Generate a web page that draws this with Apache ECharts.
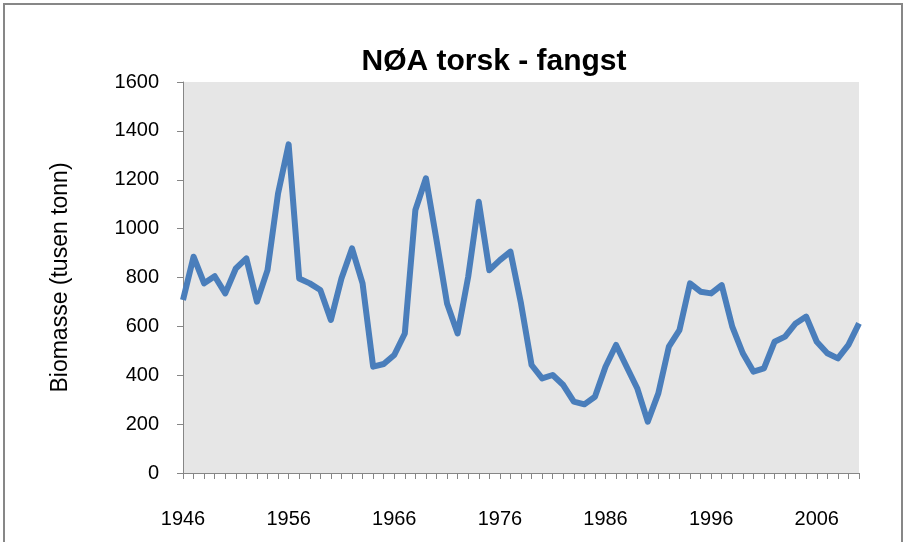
<!DOCTYPE html>
<html>
<head>
<meta charset="utf-8">
<script src="https://cdn.jsdelivr.net/npm/echarts@6/dist/echarts.min.js"></script>
<style>
html,body{margin:0;padding:0;background:#fff;}
#frame{position:absolute;left:3px;top:3px;width:900px;height:545px;border:2px solid #878787;box-sizing:border-box;}
#main{position:absolute;left:0;top:0;width:906px;height:542px;}
</style>
</head>
<body>
<div id="frame"></div>
<div id="main"></div>
<script>
// årstall og fangst (tusen tonn)
var years=[];
for(var y=1946;y<=2010;y++){years.push(String(y));}
var fangst=[708,885,776,805,735,837,878,701,830,1144,
1345,796,776,749,626,796,919,776,435,446,
483,571,1076,1206,953,694,571,803,1110,830,
871,906,694,442,387,401,360,292,281,312,
435,524,435,347,210,326,517,585,776,742,
735,769,599,490,415,428,537,558,612,640,
537,490,469,524,612];
var yTicks=[0,200,400,600,800,1000,1200,1400,1600];

var myChart=echarts.init(document.getElementById('main'));
var font='"Liberation Sans", Arial, sans-serif';
var option={
	backgroundColor:'transparent',
	title:{
		text:'NØA torsk - fangst',
		left:489,
		textAlign:'center',
		top:42,
		textStyle:{fontFamily:font,fontSize:30,fontWeight:'bold',color:'#000'}
	},
	grid:{left:183,right:47,top:82,bottom:69,show:true,backgroundColor:'#e6e6e6',borderWidth:0},
	xAxis:{
		type:'category',
		data:years,
		boundaryGap:false,
		axisLine:{lineStyle:{color:'#868686',width:1}},
		axisTick:{interval:0,length:6,lineStyle:{color:'#868686'}},
		axisLabel:{interval:9,color:'#000',fontFamily:font,fontSize:20,margin:36}
	},
	yAxis:{
		type:'value',
		min:yTicks[0],
		max:yTicks[yTicks.length-1],
		interval:200,
		name:'Biomasse (tusen tonn)',
		nameLocation:'middle',
		nameGap:111,
		nameTextStyle:{fontFamily:font,fontSize:23,fontWeight:500,color:'#000'},
		axisLine:{show:true,lineStyle:{color:'#868686',width:1}},
		axisTick:{show:true,length:6,lineStyle:{color:'#868686'}},
		splitLine:{show:false},
		axisLabel:{color:'#000',fontFamily:font,fontSize:20,margin:24,formatter:function(v){return String(v);}}
	},
	series:[{
		type:'line',
		data:fangst,
		showSymbol:false,
		lineStyle:{color:'#4a7ebb',width:6,join:'round'},
		animation:false
	}]
};
myChart.setOption(option);
</script>
</body>
</html>
